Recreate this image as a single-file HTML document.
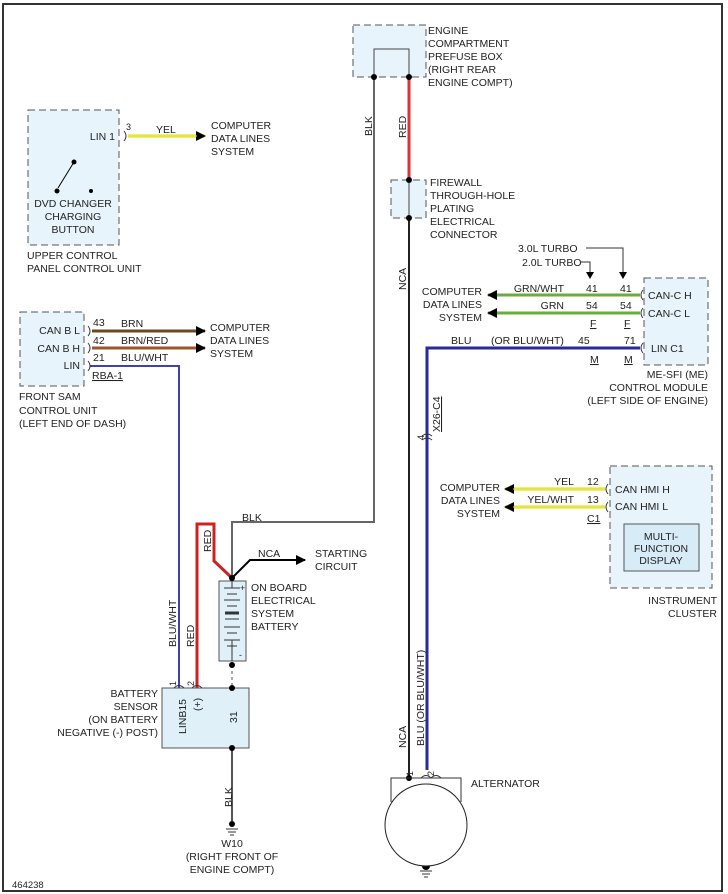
<!DOCTYPE html>
<html><head><meta charset="utf-8"><style>
body{margin:0;background:#fff}
svg{display:block}
text{font-family:"Liberation Sans",Arial,sans-serif;font-size:10.5px;fill:#222}
.r{text-anchor:end}.m{text-anchor:middle}
</style></head><body>
<svg width="728" height="894" viewBox="0 0 728 894" xmlns="http://www.w3.org/2000/svg">
<rect x="3" y="4" width="719" height="887" fill="#fff" stroke="#333" stroke-width="2"/>
<defs>
<marker id="a" markerWidth="10" markerHeight="10" refX="9" refY="5" orient="auto" markerUnits="userSpaceOnUse"><path d="M0,0L10,5L0,10z" fill="#000"/></marker>
</defs>
<g fill="#e8f4fb" stroke="#555" stroke-dasharray="7,4">
<rect x="353" y="25" width="73" height="52"/>
<rect x="391" y="180" width="35" height="38"/>
<rect x="28" y="110" width="91" height="135"/>
<rect x="20" y="312" width="64" height="74"/>
<rect x="644" y="278" width="64" height="87"/>
<rect x="610" y="466" width="102" height="122"/>
</g>
<rect x="624" y="524" width="75" height="47" fill="#d8ecf7" stroke="#555"/>
<rect x="162" y="688" width="87" height="60" fill="#e0f0f9" stroke="#555"/>
<rect x="219" y="581" width="27" height="80" fill="#e0f0f9" stroke="#555"/>
<path d="M374,77V49H409V77" fill="none" stroke="#444"/>
<path d="M374,77V522H232V578" fill="none" stroke="#666" stroke-width="2"/>
<path d="M409,77V180" fill="none" stroke="#d33" stroke-width="3"/>
<path d="M409,180V218" fill="none" stroke="#444"/>
<path d="M409,218V778" fill="none" stroke="#222" stroke-width="2"/>
<path d="M90,366H179V688" fill="none" stroke="#4040b0" stroke-width="2"/>
<path d="M197,688V524H214V561L232,578" fill="none" stroke="#c22" stroke-width="3"/>
<path d="M232,578L250,560H305" fill="none" stroke="#000" stroke-width="2" marker-end="url(#a)"/>
<path d="M232,665V688" stroke="#555" stroke-dasharray="3,3"/>
<path d="M232,748V823" stroke="#555" stroke-width="2"/>
<path d="M640,348H427V770" fill="none" stroke="#2a2a9a" stroke-width="3"/>
<g stroke-width="4" fill="none">
<path d="M128,136H205" stroke="#f0f070" marker-end="url(#a)"/>
<path d="M92,331H205" stroke="#6b4a1a" stroke-width="3" marker-end="url(#a)"/>
<path d="M92,348H205" stroke="#a0522d" stroke-width="3" marker-end="url(#a)"/>
<path d="M640,295H488" stroke="#6aae3a" stroke-width="3" marker-end="url(#a)"/>
<path d="M640,313H488" stroke="#6aae3a" stroke-width="3" marker-end="url(#a)"/>
<path d="M605,489H505" stroke="#f0f070" marker-end="url(#a)"/>
<path d="M605,507H505" stroke="#f0f070" marker-end="url(#a)"/>
</g>
<path d="M128,136H197" stroke="#d8d820" stroke-width="1"/>
<path d="M605,489H513M605,507H513" stroke="#d8d820" stroke-width="1"/>
<path d="M586,248H623V275M580,262H590V275" fill="none" stroke="#333"/>
<path d="M619,272L623,279L627,272zM586,272L590,279L594,272z" fill="#000"/>
<g fill="none" stroke="#333">
<path d="M124,131q4,5 0,10M88,326q4,5 0,10M88,343q4,5 0,10M88,361q4,5 0,10"/>
<path d="M643,290q-4,5 0,10M643,308q-4,5 0,10M643,343q-4,5 0,10M608,484q-4,5 0,10M608,502q-4,5 0,10"/>
<path d="M174,688q5,-5 10,0M192,688q5,-5 10,0M422,436q5,-4 10,0M422,440q5,-4 10,0M421,778q5,-5 10,0M431,778q5,-5 10,0"/>
</g>
<path d="M74,162L58,188" stroke="#000"/>
<g fill="#000"><circle cx="57" cy="191" r="2.5"/><circle cx="91" cy="191" r="2"/><circle cx="74" cy="162" r="2.5"/>
<circle cx="374" cy="77" r="3"/><circle cx="409" cy="77" r="3"/><circle cx="409" cy="180" r="3"/><circle cx="409" cy="218" r="3"/>
<circle cx="232" cy="578" r="3"/><circle cx="232" cy="665" r="3"/><circle cx="232" cy="688" r="3"/><circle cx="232" cy="748" r="3"/><circle cx="232" cy="824" r="3"/>
<circle cx="409" cy="778" r="3"/><circle cx="426" cy="866" r="4"/></g>
<g stroke="#333"><path d="M232,581V588M224,588H240M227,594H237M224,600H240M227,606H237M225,619H239M224,627H240M227,633H237M224,640H240M232,640V661M227,646H237"/><path d="M225,613H239" stroke-width="3"/></g>
<text x="240" y="591" style="font-size:9px">+</text><text x="239" y="658" style="font-size:9px">-</text>
<path d="M226,829H238M228,832H236M230,835H234M420,871H432M422,874H430M424,877H428" stroke="#333"/>
<path d="M391,802V778H461V802" fill="none" stroke="#333"/>
<circle cx="426" cy="825" r="41" fill="#fff" stroke="#222"/>
<text x="428" y="34">ENGINE</text><text x="428" y="47">COMPARTMENT</text><text x="428" y="60">PREFUSE BOX</text><text x="428" y="73">(RIGHT REAR</text><text x="428" y="86">ENGINE COMPT)</text>
<text x="430" y="186">FIREWALL</text><text x="430" y="199">THROUGH-HOLE</text><text x="430" y="212">PLATING</text><text x="430" y="225">ELECTRICAL</text><text x="430" y="238">CONNECTOR</text>
<text x="115" y="140" class="r">LIN 1</text><text x="126" y="130" style="font-size:9px">3</text><text x="156" y="133">YEL</text>
<text x="211" y="129">COMPUTER</text><text x="211" y="142">DATA LINES</text><text x="211" y="155">SYSTEM</text>
<text x="73" y="207" class="m">DVD CHANGER</text><text x="73" y="220" class="m">CHARGING</text><text x="73" y="233" class="m">BUTTON</text>
<text x="27" y="259">UPPER CONTROL</text><text x="27" y="272">PANEL CONTROL UNIT</text>
<text x="80" y="334" class="r">CAN B L</text><text x="80" y="352" class="r">CAN B H</text><text x="80" y="369" class="r">LIN</text>
<text x="93" y="326">43</text><text x="93" y="344">42</text><text x="93" y="361">21</text>
<text x="121" y="327">BRN</text><text x="121" y="344">BRN/RED</text><text x="121" y="361">BLU/WHT</text>
<text x="92" y="379" text-decoration="underline">RBA-1</text>
<text x="210" y="331">COMPUTER</text><text x="210" y="344">DATA LINES</text><text x="210" y="357">SYSTEM</text>
<text x="19" y="400">FRONT SAM</text><text x="19" y="414">CONTROL UNIT</text><text x="19" y="427">(LEFT END OF DASH)</text>
<text x="242" y="521">BLK</text><text x="258" y="557">NCA</text><text x="315" y="557">STARTING</text><text x="315" y="570">CIRCUIT</text>
<text x="251" y="591">ON BOARD</text><text x="251" y="604">ELECTRICAL</text><text x="251" y="617">SYSTEM</text><text x="251" y="630">BATTERY</text>
<text x="158" y="697" class="r">BATTERY</text><text x="158" y="710" class="r">SENSOR</text><text x="158" y="723" class="r">(ON BATTERY</text><text x="158" y="736" class="r">NEGATIVE (-) POST)</text>
<text x="232" y="847" class="m">W10</text><text x="232" y="860" class="m">(RIGHT FRONT OF</text><text x="232" y="873" class="m">ENGINE COMPT)</text>
<text x="12" y="888" style="font-size:9.5px">464238</text>
<text x="518" y="252">3.0L TURBO</text><text x="522" y="266">2.0L TURBO</text>
<text x="482" y="295" class="r">COMPUTER</text><text x="482" y="308" class="r">DATA LINES</text><text x="482" y="321" class="r">SYSTEM</text>
<text x="564" y="292" class="r">GRN/WHT</text><text x="564" y="309" class="r">GRN</text>
<text x="586" y="292">41</text><text x="620" y="292">41</text><text x="586" y="309">54</text><text x="620" y="309">54</text>
<text x="590" y="327" text-decoration="underline">F</text><text x="624" y="327" text-decoration="underline">F</text>
<text x="451" y="344">BLU</text><text x="491" y="344">(OR BLU/WHT)</text><text x="578" y="344">45</text><text x="624" y="344">71</text>
<text x="590" y="363" text-decoration="underline">M</text><text x="624" y="363" text-decoration="underline">M</text>
<text x="648" y="299">CAN-C H</text><text x="648" y="317">CAN-C L</text><text x="651" y="352">LIN C1</text>
<text x="708" y="378" class="r">ME-SFI (ME)</text><text x="708" y="391" class="r">CONTROL MODULE</text><text x="708" y="404" class="r">(LEFT SIDE OF ENGINE)</text>
<text x="500" y="491" class="r">COMPUTER</text><text x="500" y="504" class="r">DATA LINES</text><text x="500" y="517" class="r">SYSTEM</text>
<text x="574" y="485" class="r">YEL</text><text x="574" y="503" class="r">YEL/WHT</text>
<text x="587" y="485">12</text><text x="587" y="503">13</text><text x="587" y="522" text-decoration="underline">C1</text>
<text x="615" y="493">CAN HMI H</text><text x="615" y="510">CAN HMI L</text>
<text x="661" y="540" class="m">MULTI-</text><text x="661" y="552" class="m">FUNCTION</text><text x="661" y="564" class="m">DISPLAY</text>
<text x="717" y="604" class="r">INSTRUMENT</text><text x="717" y="617" class="r">CLUSTER</text>
<text x="471" y="787">ALTERNATOR</text>
<text transform="translate(372,136) rotate(-90)">BLK</text>
<text transform="translate(406,138) rotate(-90)">RED</text>
<text transform="translate(406,290) rotate(-90)">NCA</text>
<text transform="translate(406,748) rotate(-90)">NCA</text>
<text transform="translate(424,746) rotate(-90)">BLU   (OR BLU/WHT)</text>
<text transform="translate(440,432) rotate(-90)" text-decoration="underline">X26-C4</text>
<text transform="translate(424,440) rotate(-90)" style="font-size:9px">4</text>
<text transform="translate(176,647) rotate(-90)">BLU/WHT</text>
<text transform="translate(194,647) rotate(-90)">RED</text>
<text transform="translate(211,552) rotate(-90)">RED</text>
<text transform="translate(186,734) rotate(-90)">LINB15</text>
<text transform="translate(201,711) rotate(-90)">(+)</text>
<text transform="translate(237,723) rotate(-90)">31</text>
<text transform="translate(176,686) rotate(-90)" style="font-size:9px">1</text>
<text transform="translate(194,686) rotate(-90)" style="font-size:9px">2</text>
<text transform="translate(232,807) rotate(-90)">BLK</text>
<text transform="translate(413,776) rotate(-90)" style="font-size:9px">1</text>
<text transform="translate(434,776) rotate(-90)" style="font-size:9px">2</text>
</svg>
</body></html>
